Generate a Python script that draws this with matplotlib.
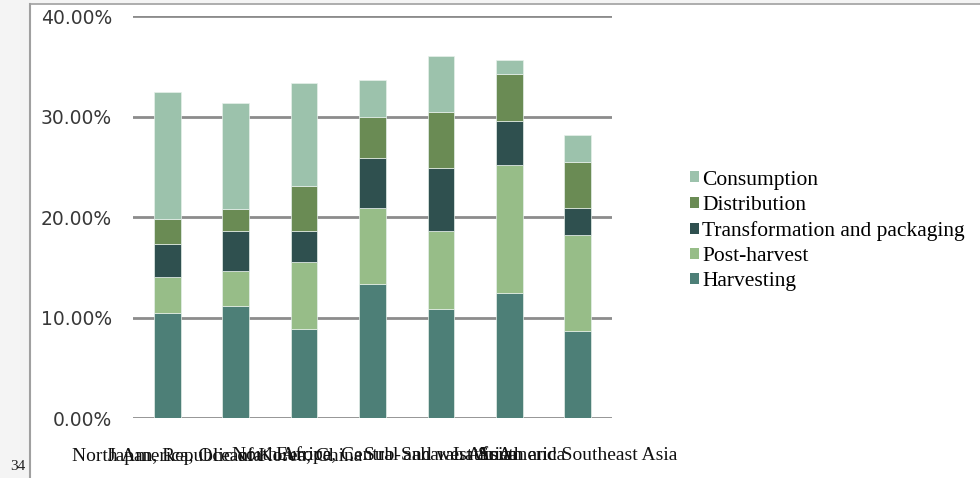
import matplotlib
matplotlib.use("Agg")
import matplotlib.pyplot as plt
from matplotlib.patches import Patch, Rectangle
from matplotlib.lines import Line2D
import numpy as np

categories = ["North America, Oceania", "Japan, Republic of Korea, China", "Europe",
              "North Africa, Central and west Asia", "Sub-Saharan Africa",
              "Latin America", "South and Southeast Asia"]
stages = ["Harvesting", "Post-harvest", "Transformation and packaging", "Distribution", "Consumption"]
harvesting = [10.45, 11.20, 8.92, 13.40, 10.85, 12.50, 8.69]
post_harvest = [3.58, 3.46, 6.63, 7.50, 7.75, 12.67, 9.55]
transformation = [3.31, 3.98, 3.09, 5.00, 6.30, 4.43, 2.69]
distribution = [2.46, 2.16, 4.47, 4.08, 5.60, 4.63, 4.60]
consumption = [12.64, 10.60, 10.22, 3.71, 5.52, 1.39, 2.66]
yticks = [0, 10, 20, 30, 40]
ytick_labels = ["0.00%", "10.00%", "20.00%", "30.00%", "40.00%"]

colors = ["#4d7f77", "#97bd88", "#2f504f", "#6a8b54", "#9cc2ac"]
series = [harvesting, post_harvest, transformation, distribution, consumption]

fig = plt.figure(figsize=(9.8, 4.78), dpi=100)
fig.patch.set_facecolor("white")

# page background / frame (document context)
fig.patches.append(Rectangle((0, 0), 29/980, 1, transform=fig.transFigure,
                             facecolor="#f4f4f4", edgecolor="none", zorder=0))
fig.patches.append(Rectangle((0, 1 - 4/478), 1, 4/478, transform=fig.transFigure,
                             facecolor="#f4f4f4", edgecolor="none", zorder=0))
fig.add_artist(Line2D([29.5/980, 29.5/980], [0, 1 - 4/478], transform=fig.transFigure,
                      color="#a0a0a0", lw=1.5))
fig.add_artist(Line2D([29.5/980, 1], [1 - 4/478, 1 - 4/478], transform=fig.transFigure,
                      color="#a0a0a0", lw=1.2))
fig.text(10/980, 1 - 466/478, "34", fontsize=11, family="Liberation Serif",
         va="center", ha="left", color="#222222")

ax = fig.add_axes([133/980, (478 - 418.3)/478, (612 - 133)/980, (418.3 - 16.3)/478])
x = np.arange(len(categories))
bottom = np.zeros(len(categories))
for vals, col, name in zip(series, colors, stages):
    ax.bar(x, vals, width=0.39, bottom=bottom, color=col, edgecolor="#e6f0ea",
           linewidth=0.5, zorder=3, label=name)
    bottom += np.array(vals)

ax.set_xlim(-0.5, len(categories) - 0.5)
ax.set_ylim(0, 40)
ax.set_yticks(yticks)
ax.set_yticklabels(ytick_labels, fontsize=13.5, family="DejaVu Sans", color="#383838")
ax.set_xticks(x)
ax.set_xticklabels(categories, fontsize=14, family="Liberation Serif", color="#111111")
ax.tick_params(axis="y", length=0, pad=15)
ax.tick_params(axis="x", length=0, pad=21)
for s in ax.spines.values():
    s.set_visible(False)
ax.yaxis.grid(True, color="#8c8c8c", linewidth=2.0, zorder=0)
ax.set_axisbelow(True)
ax.set_facecolor("none")

handles = [Patch(facecolor=c, edgecolor="none") for c in colors[::-1]]
leg = fig.legend(handles, stages[::-1], loc="center left",
                 bbox_to_anchor=(690/980, 1 - 231/478),
                 frameon=False, prop={"family": "Liberation Serif", "size": 15.5},
                 handlelength=0.42, handleheight=0.42, handletextpad=0.15,
                 labelspacing=0.29, borderpad=0, borderaxespad=0)

fig.savefig("out.png", dpi=100)
